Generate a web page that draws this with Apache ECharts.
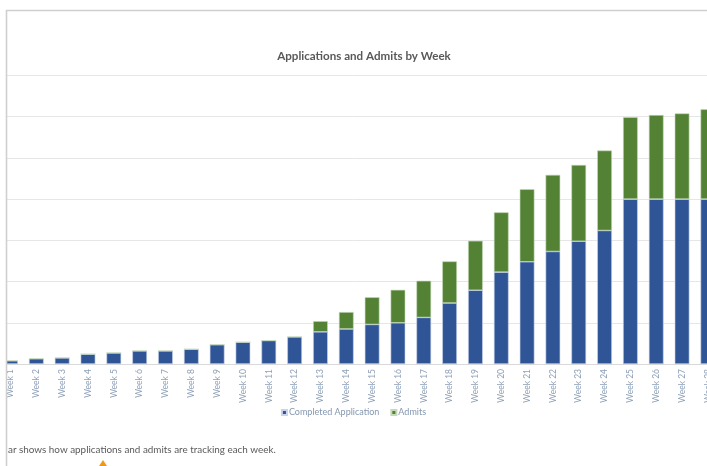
<!DOCTYPE html>
<html>
<head>
<meta charset="utf-8">
<script src="https://cdn.jsdelivr.net/npm/echarts@6/dist/echarts.min.js"></script>
<style>
html,body{margin:0;padding:0;background:#fff;}
#chart{width:707px;height:466px;}
</style>
</head>
<body>
<div id="chart"></div>
<script>
var categories = ['Week 1','Week 2','Week 3','Week 4','Week 5','Week 6','Week 7','Week 8','Week 9','Week 10','Week 11','Week 12','Week 13','Week 14','Week 15','Week 16','Week 17','Week 18','Week 19','Week 20','Week 21','Week 22','Week 23','Week 24','Week 25','Week 26','Week 27','Week 28'];
var completedApplications = [8,13,15,24,27,32,32,36,47,53,57,66,78,85,96,100,113,148,179,223,248,273,298,324,400,400,400,400];
var admits = [0,0,0,0,0,0,0,0,0,0,0,0,26,41,66,80,89,101,120,145,176,186,185,194,199,204,208,218];
var titleText = 'Applications and Admits by Week';
var captionText = 'ar shows how applications and admits are tracking each week.';

var chart = echarts.init(document.getElementById('chart'), null, {renderer:'canvas'});
chart.setOption({
  backgroundColor:'#ffffff',
  animation:false,
  title:{
    text:titleText, left:359, top:45, textAlign:'center',
    textStyle:{fontFamily:'Lato', fontWeight:'bold', fontSize:11.6, color:'#595959'}
  },
  legend:{
    data:['Completed Application','Admits'],
    left:'center', top:403, itemWidth:5, itemHeight:5, itemGap:11,
    icon:'rect',
    textStyle:{fontFamily:'Lato', fontSize:9, color:'#8497b0', padding:[0,0,0,-3]}
  },
  grid:{left:-2.4, width:723.2, top:75.5, bottom:102, containLabel:false, outerBoundsMode:'none'},
  xAxis:{
    type:'category', data:categories,
    axisLine:{lineStyle:{color:'#d9d9d9', width:1}},
    axisTick:{show:false},
    axisLabel:{rotate:90, interval:0, fontFamily:'Lato', fontSize:8.5, color:'#8ea0b8', margin:5}
  },
  yAxis:{
    type:'value', min:0, max:700, interval:100,
    axisLabel:{show:false}, axisLine:{show:false}, axisTick:{show:false},
    splitLine:{lineStyle:{color:'#e6e6e6', width:1}}
  },
  series:[
    {name:'Completed Application', type:'bar', stack:'a', data:completedApplications, barWidth:14.7,
     itemStyle:{color:'#2f5597', borderColor:'#c9d4ea', borderWidth:0.6}},
    {name:'Admits', type:'bar', stack:'a', data:admits, barWidth:14.7,
     itemStyle:{color:'#548235', borderColor:'#c5d9b8', borderWidth:0.6}}
  ],
  graphic:[
    {type:'rect', z:100, shape:{x:0,y:0,width:6,height:466}, style:{fill:'#ffffff'}},
    {type:'rect', z:100, shape:{x:0,y:0,width:707,height:10}, style:{fill:'#ffffff'}},
    {type:'line', z:101, shape:{x1:6.5,y1:10,x2:6.5,y2:466}, style:{stroke:'#cfcfcf', lineWidth:1.6}},
    {type:'line', z:101, shape:{x1:6,y1:10.5,x2:707,y2:10.5}, style:{stroke:'#cfcfcf', lineWidth:1.6}},
    {type:'text', z:101, left:8, top:445, style:{text:captionText, fontFamily:'Lato', fontSize:9.9, fill:'#595959'}},
    {type:'polygon', z:101, shape:{points:[[99,466],[103,460],[107,466]]}, style:{fill:'#ed9a1c'}}
  ]
});
</script>
</body>
</html>
